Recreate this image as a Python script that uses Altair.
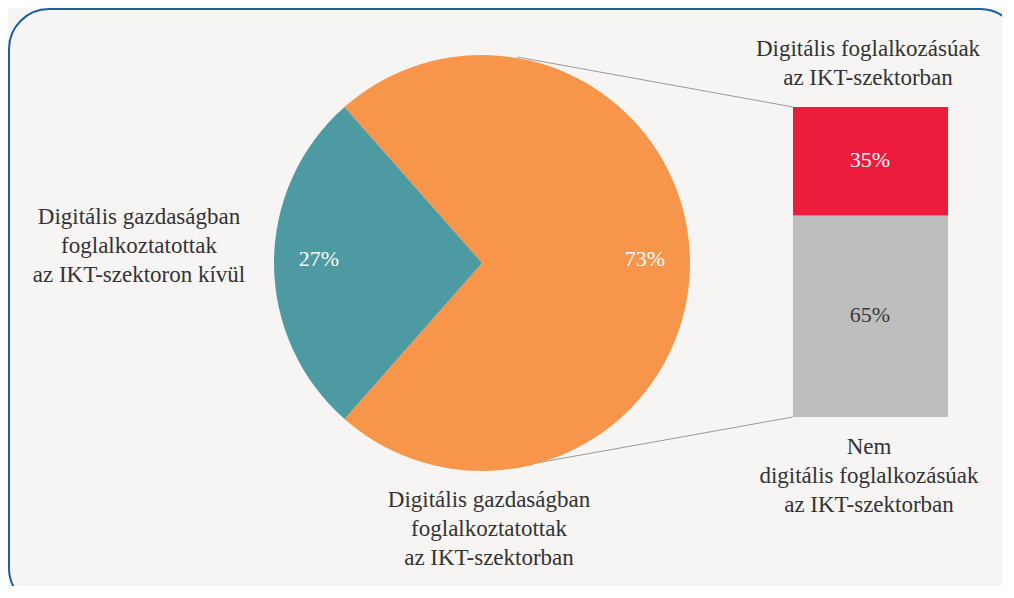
import altair as alt
import pandas as pd

# ---- data ----
pie_categories = ["IKT-szektorban", "IKT-szektoron kívül"]
pie_values = [73, 27]
pie_colors = ["#f7964a", "#4e9aa2"]

bar_categories = ["Nem digitális foglalkozásúak", "Digitális foglalkozásúak"]
bar_values = [65, 35]
bar_colors = ["#bdbec0", "#ee1c3c"]

pie_df = pd.DataFrame({"cat": pie_categories, "val": pie_values, "ord": [0, 1],
                       "lab": [f"{v}%" for v in pie_values]})
bar_df = pd.DataFrame({"cat": bar_categories, "val": bar_values})
bar_df["y0"] = bar_df["val"].cumsum() - bar_df["val"]
bar_df["y1"] = bar_df["val"].cumsum()
bar_df["mid"] = (bar_df["y0"] + bar_df["y1"]) / 2
bar_df["lab"] = [f"{v}%" for v in bar_values]
bar_df["tc"] = ["#3a3a3a", "#ffffff"]

FONT = "Liberation Serif, Times New Roman, serif"
TXT = "#333333"
FS = 23
FSN = 22
W, H = 994, 578
CX, CY, R = 474, 255, 208
start = -0.7226

theta = alt.Theta("val:Q", stack=True,
                  scale=alt.Scale(range=[start, start + 6.283185]))

pie = alt.Chart(pie_df).mark_arc(radius=R, stroke=None).encode(
    theta=theta,
    order=alt.Order("ord:Q"),
    color=alt.Color("cat:N", scale=alt.Scale(domain=pie_categories, range=pie_colors), legend=None),
    x=alt.value(CX), y=alt.value(CY),
)
pie_text = alt.Chart(pie_df).mark_text(radius=163, font=FONT, fontSize=FSN, color="#ffffff").encode(
    theta=theta,
    order=alt.Order("ord:Q"),
    text="lab:N",
    x=alt.value(CX), y=alt.value(CY - 4),
)

yscale = alt.Scale(domain=[0, 100], range=[409, 99])
bar = alt.Chart(bar_df).mark_bar().encode(
    x=alt.value(785), x2=alt.value(940),
    y=alt.Y("y0:Q", scale=yscale, axis=None), y2="y1:Q",
    color=alt.Color("cat:N", scale=alt.Scale(domain=bar_categories, range=bar_colors), legend=None),
)
bar_text = alt.Chart(bar_df).mark_text(font=FONT, fontSize=FSN, dy=-1).encode(
    x=alt.value(862),
    y=alt.Y("mid:Q", scale=yscale, axis=None),
    text="lab:N",
    color=alt.Color("tc:N", scale=None),
)

def label(txt, x, y):
    return alt.Chart(pd.DataFrame({"t": [txt]})).mark_text(
        font=FONT, fontSize=FS, color=TXT, lineBreak="\n", lineHeight=29,
        align="center", baseline="middle").encode(
        text="t:N", x=alt.value(x), y=alt.value(y))

labels = [
    label("Digitális gazdaságban\nfoglalkoztatottak\naz IKT-szektoron kívül", 131, 209),
    label("Digitális gazdaságban\nfoglalkoztatottak\naz IKT-szektorban", 481, 492),
    label("Digitális foglalkozásúak\naz IKT-szektorban", 860, 41),
    label("Nem\ndigitális foglalkozásúak\naz IKT-szektorban", 861, 439),
]

conn_df = pd.DataFrame({"k": ["a"]})
line_top = alt.Chart(conn_df).mark_rule(color="#9a9a9a", strokeWidth=1).encode(
    x=alt.value(509), y=alt.value(49), x2=alt.value(785), y2=alt.value(99))
line_bot = alt.Chart(conn_df).mark_rule(color="#9a9a9a", strokeWidth=1).encode(
    x=alt.value(495), y=alt.value(461), x2=alt.value(785), y2=alt.value(409))

border = alt.Chart(conn_df).mark_rect(fill=None, stroke="#1a5fa0", strokeWidth=2,
                                      cornerRadius=40).encode(
    x=alt.value(1), y=alt.value(1), x2=alt.value(1012), y2=alt.value(600))

chart = alt.layer(border, line_top, line_bot, pie, pie_text, bar, bar_text, *labels).properties(
    width=W, height=H, background="#f6f5f3", padding=0,
    autosize=alt.AutoSizeParams(type="none"),
).configure_view(stroke=None).resolve_scale(color="independent")

chart.save("out.html", embed_options={"renderer": "svg", "actions": False})
